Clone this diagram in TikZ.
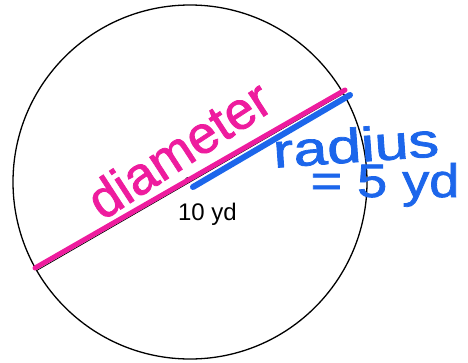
\documentclass[tikz,border=0pt]{standalone}
\usepackage{fontspec}
\setmainfont{Liberation Sans}
\newfontfamily\handfont[FakeBold=1.5]{Liberation Sans}
\usetikzlibrary{calc}
\definecolor{pinkmark}{RGB}{238,28,158}
\definecolor{bluemark}{RGB}{28,102,235}
\tikzset{
  pinkline/.style={draw=pinkmark, line width=5pt, line cap=round},
  blueline/.style={draw=bluemark, line width=6pt, line cap=round},
  handtext/.style={inner sep=0pt, font=\handfont},
}
\begin{document}
\begin{tikzpicture}[x=1pt,y=-1pt]
\useasboundingbox (0,0) rectangle (468,362);
\node[circle, draw=black, line width=1.3pt, minimum size=354pt, inner sep=0pt, outer sep=0pt] (c) at (190,182) {};
\node[circle, fill=black, inner sep=0pt, minimum size=6pt] (ctr) at (188,180) {};
\draw[black, line width=0.8pt] (c.210) -- (c.30);
\coordinate (pa) at (35,268);
\coordinate (pb) at (345,90);
\coordinate (ba) at (193,187);
\coordinate (bb) at (350,95);
\draw[pinkline] (pa) -- (pb);
\draw[blueline] (ba) -- (bb);
\node[anchor=base, inner sep=0pt, font=\fontsize{24}{28}\selectfont] (ten) at (207.5,220) {10 yd};
\node[handtext, anchor=base, rotate=33, text=pinkmark, font=\handfont\fontsize{53}{60}\selectfont] (dia) at (189,165) {diameter};
\node[handtext, anchor=base, rotate=4, text=bluemark, font=\handfont\fontsize{48}{56}\selectfont] (rad) at (357,162) {\scalebox{1.27}[1]{radius}};
\node[handtext, anchor=base, text=bluemark, font=\handfont\fontsize{47}{54}\selectfont] (eq) at (385,197) {\scalebox{1.15}[1]{= 5 yd}};
\end{tikzpicture}
\end{document}
